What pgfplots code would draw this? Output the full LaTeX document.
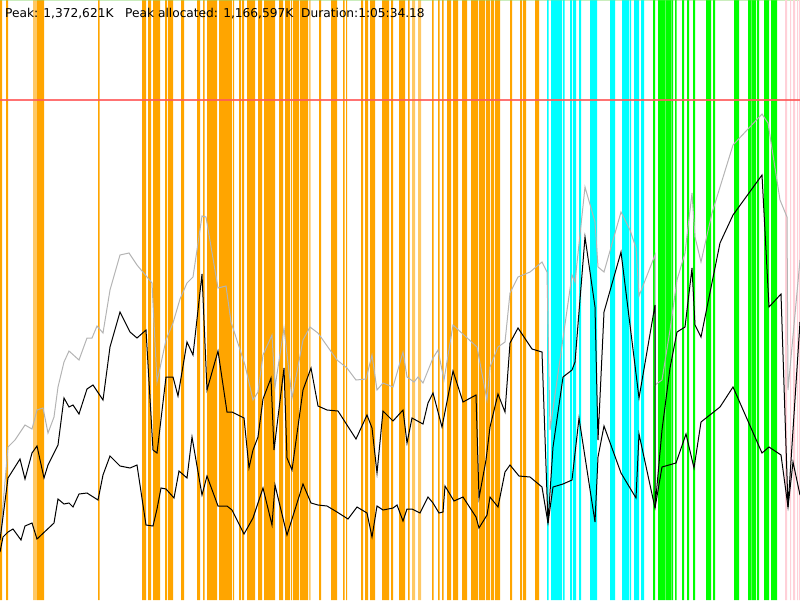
\documentclass[border=0pt]{standalone}
\usepackage{pgfplots}
\pgfplotsset{compat=1.18}
\usepackage{fontspec}
\setmainfont{DejaVu Sans}
\definecolor{bOrange}{RGB}{255,165,0}
\definecolor{bOrangeL}{RGB}{255,200,100}
\definecolor{bCyan}{RGB}{0,255,255}
\definecolor{bGreen}{RGB}{0,255,0}
\definecolor{bPink}{RGB}{255,208,216}
\definecolor{lGray}{RGB}{180,180,180}
\definecolor{rLine}{RGB}{255,90,90}
\begin{document}
\begin{tikzpicture}
\begin{axis}[width=800pt,height=600pt,scale only axis,
  xmin=0,xmax=800,ymin=0,ymax=600,y dir=reverse,
  axis line style={draw=none},xtick=\empty,ytick=\empty,clip=true]
% light orange bars
\addplot[const plot,fill=bOrangeL,draw=none] coordinates {
(0,0)(33,600)(37,0)(309,600)(310.5,0)(412,600)(415,0)(418,600)(421,0)(800,0)} \closedcycle;
% orange bars
\addplot[const plot,fill=bOrange,draw=none] coordinates {
(0,600)(2,0)(6,600)(8,0)(37,600)(44,0)(98,600)(99.5,0)(142,600)(146,0)(148,600)(151,0)
(153,600)(160,0)(165,600)(167,0)(168,600)(173,0)(181,600)(184,0)(197,600)(200,0)
(203,600)(204.5,0)(207,600)(217,0)(219,600)(232,0)(233,600)(234,0)(239,600)(241,0)
(242,600)(244,0)(247,600)(255,0)(258,600)(262,0)(264,600)(275,0)(279,600)(283,0)
(285,600)(290,0)(291,600)(292,0)(293,600)(299,0)(300,600)(308,0)(319,600)(321,0)
(331,600)(337,0)(343,600)(344.5,0)(346,600)(347,0)(361,600)(363,0)(365,600)(368,0)
(370,600)(375,0)(382,600)(389,0)(391,600)(393,0)(399,600)(405,0)(408,600)(409.5,0)
(432,600)(433.5,0)(438,600)(439.5,0)(442,600)(443.5,0)(447,600)(451,0)(453,600)(458,0)
(462,600)(467,0)(471,600)(478,0)(479,600)(485,0)(486,600)(490,0)(491,600)(494,0)
(495,600)(500,0)(510,600)(512,0)(520,600)(522,0)(523,600)(526,0)(535,600)(539,0)(800,0)} \closedcycle;
% cyan bars
\addplot[const plot,fill=bCyan,draw=none] coordinates {
(0,0)(547,600)(548.5,0)(551,600)(562,0)(563,600)(564.5,0)(570,600)(572,0)(573,600)(576,0)
(579,600)(581,0)(590,600)(597,0)(610,600)(615,0)(622,600)(629,0)(629.8,600)(631,0)
(634,600)(639,0)(641,600)(644,0)(800,0)} \closedcycle;
% green bars
\addplot[const plot,fill=bGreen,draw=none] coordinates {
(0,0)(653,600)(655,0)(658,600)(665,0)(665.7,600)(671,0)(671.7,600)(673,0)(675,600)(676.5,0)
(682,600)(684,0)(687,600)(689,0)(693,600)(695,0)(706,600)(711,0)(713,600)(715,0)
(734,600)(739,0)(748,600)(751,0)(751.7,600)(756,0)(757,600)(759,0)(764,600)(769,0)
(771,600)(777,0)(800,0)} \closedcycle;
% pink bars
\addplot[const plot,fill=bPink,draw=none] coordinates {
(0,0)(785,600)(787,0)(790,600)(791,0)(793,600)(795,0)(797,600)(798,0)(799,600)(800,0)} \closedcycle;
% red line
\addplot[rLine,line width=1.3pt,opacity=0.85] coordinates {(0,100)(800,100)};
% gray line
\addplot[lGray,line width=1pt] coordinates {
(0,540)(8,447)(15,440)(25,425)(32,429)(37,410)(43,408)(48,433)(54,417)(58,387)(64,362)(69,351)(79,360)(87,338)(92,338)(97,326)(103,333)(110,290)(120,255)(129,253)(137,265)(152,283)(157,382)(166,340)(173,323)(180,299)(187,283)(193,277)(202,216)(206,217)(218,288)(226,286)(231,322)(245,365)(253,400)(258,392)(263,355)(272,335)(275,387)(284,328)(292,398)(303,340)(310,327)(318,333)(337,360)(347,368)(356,380)(366,379)(372,355)(377,390)(383,383)(393,387)(403,352)(407,377)(414,382)(418,377)(423,383)(433,358)(438,350)(444,380)(453,325)(477,347)(487,400)(490,367)(498,347)(505,342)(510,293)(518,277)(530,272)(542,262)(547,272)(550,430)(572,275)(575,282)(585,187)(595,222)(598,267)(604,272)(621,212)(630,230)(636,248)(639,296)(655,255)(655,385)(662,380)(670,330)(677,280)(685,253)(692,193)(695,237)(701,262)(712,213)(733,145)(762,114)(768,123)(780,200)(787,217)(788,390)(800,260)};
% middle black line
\addplot[black,line width=1pt] coordinates {
(0,540)(8,478)(20,459)(25,479)(32,453)(37,446)(44,478)(48,465)(58,445)(64,398)(69,407)(73,405)(79,414)(87,389)(93,385)(103,400)(110,347)(120,312)(130,332)(137,338)(146,330)(153,450)(157,453)(166,377)(173,377)(178,396)(187,342)(193,355)(202,274)(207,390)(218,351)(227,412)(232,412)(244,418)(249,468)(253,450)(258,437)(263,399)(271,378)(274,450)(284,368)(287,458)(292,470)(303,390)(311,368)(318,406)(327,410)(338,411)(356,439)(367,415)(372,428)(377,473)(383,411)(393,421)(403,410)(407,443)(412,418)(423,424)(428,403)(433,393)(442,427)(453,371)(463,402)(476,395)(479,498)(486,460)(490,427)(498,394)(505,412)(510,343)(518,328)(532,349)(542,352)(548,523)(553,447)(563,377)(572,370)(575,362)(585,237)(595,307)(598,440)(604,312)(621,252)(639,398)(655,305)(655,508)(662,430)(670,368)(677,332)(685,327)(692,268)(695,325)(701,337)(720,243)(733,215)(762,175)(769,307)(781,294)(788,507)(800,322)};
% lower black line
\addplot[black,line width=1pt] coordinates {
(0,552)(3,537)(8,532)(13,529)(21,540)(25,526)(32,523)(37,539)(54,523)(58,499)(64,504)(69,503)(73,507)(79,494)(87,493)(98,500)(103,475)(110,456)(120,466)(130,468)(137,465)(146,525)(153,526)(157,509)(161,488)(166,489)(174,498)(179,471)(187,478)(192,437)(202,495)(207,476)(218,506)(227,506)(232,510)(244,534)(253,518)(263,488)(272,525)(275,485)(287,535)(303,484)(311,503)(318,505)(327,506)(337,512)(348,519)(357,507)(367,513)(372,537)(377,506)(383,510)(393,508)(397,505)(403,521)(407,509)(412,509)(420,513)(428,497)(433,503)(439,513)(443,512)(445,486)(454,501)(463,497)(476,517)(479,528)(487,515)(490,497)(498,507)(505,472)(510,465)(519,476)(530,477)(542,487)(548,523)(553,487)(563,484)(572,480)(579,418)(595,522)(598,457)(604,426)(621,473)(636,498)(639,434)(655,508)(662,467)(676,463)(686,434)(694,468)(701,422)(720,407)(733,387)(762,453)(769,447)(781,455)(788,507)(793,462)(800,495)};
\node[anchor=base west,inner sep=0pt,font=\fontsize{12.2}{14}\selectfont] at (axis cs:5,17) {Peak: 1,372,621K};
\node[anchor=base west,inner sep=0pt,font=\fontsize{12.2}{14}\selectfont] at (axis cs:125,17) {Peak allocated: 1,166,597K};
\node[anchor=base west,inner sep=0pt,font=\fontsize{12.2}{14}\selectfont] at (axis cs:301,17) {Duration:1:05:34.18};
\end{axis}
\end{tikzpicture}
\end{document}
